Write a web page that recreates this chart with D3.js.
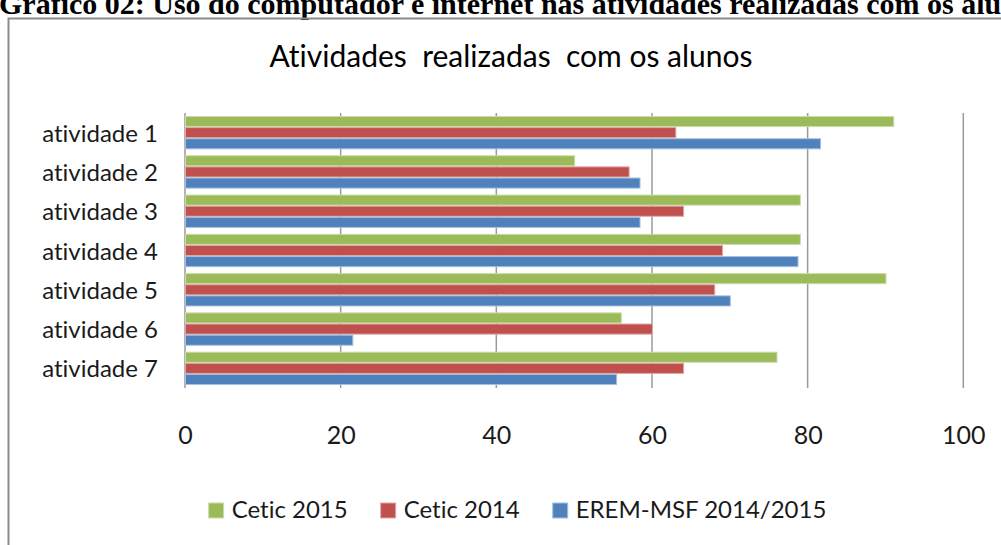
<!DOCTYPE html>
<html>
<head>
<meta charset="utf-8">
<script src="https://cdn.jsdelivr.net/npm/d3@7"></script>
<style>
  body { margin: 0; background: #fff; }
  svg { display: block; }
  text { font-variant-ligatures: none; }
</style>
</head>
<body>
<svg width="1001" height="545"></svg>
<script>
const categories = ['atividade 1', 'atividade 2', 'atividade 3', 'atividade 4', 'atividade 5', 'atividade 6', 'atividade 7'];
const seriesNames = ['Cetic 2015', 'Cetic 2014', 'EREM-MSF 2014/2015'];
const cetic2015 = [91, 50, 79, 79, 90, 56, 76];
const cetic2014 = [63, 57, 64, 69, 68, 60, 64];
const erem = [81.6, 58.4, 58.4, 78.7, 70, 21.5, 55.4];
const xTicks = [0, 20, 40, 60, 80, 100];
const colors = ['#9bbb59', '#c0504d', '#4f81bd'];
const edges = ['#cddcac', '#dfa8a6', '#a7c0de'];

const svg = d3.select('svg');
const width = +svg.attr('width');
const font = 'Lato, Carlito, sans-serif';

// page heading, cut off at the top like in the scan
svg.append('text')
    .attr('x', -1)
    .attr('y', 14)
    .attr('font-family', '"Liberation Serif", "Times New Roman", serif')
    .attr('font-weight', 'bold')
    .attr('font-size', 30)
    .text('Gráfico 02: Uso do computador e internet nas atividades realizadas com os alunos');

// chart frame
svg.append('rect')
    .attr('x', 8.5)
    .attr('y', 18.5)
    .attr('width', width + 20)
    .attr('height', 600)
    .attr('fill', 'none')
    .attr('stroke', '#8c8c8c')
    .attr('stroke-width', 2);

svg.append('text')
    .attr('x', 511)
    .attr('y', 67)
    .attr('text-anchor', 'middle')
    .attr('font-family', font)
    .attr('font-size', 30)
    .style('white-space', 'pre')
    .attr('fill', '#000')
    .text('Atividades  realizadas  com os alunos');

const x = d3.scaleLinear().domain([0, 100]).range([185, 963.3]);
const y = d3.scaleBand().domain(categories).range([113, 388])
    .paddingInner(0.15).paddingOuter(0.075);
const ySub = d3.scaleBand().domain(seriesNames).range([0, y.bandwidth()]);

// gridlines
svg.append('g')
    .selectAll('line')
    .data(xTicks)
    .join('line')
    .attr('x1', d => x(d))
    .attr('x2', d => x(d))
    .attr('y1', 113)
    .attr('y2', 388)
    .attr('stroke', '#9a9a9a')
    .attr('stroke-width', 1.5);

const table = [cetic2015, cetic2014, erem];

const groups = svg.append('g')
    .selectAll('g')
    .data(categories)
    .join('g')
    .attr('transform', d => `translate(0,${y(d)})`);

groups.selectAll('rect')
    .data((d, i) => seriesNames.map((s, j) => ({ s, j, v: table[j][i] })))
    .join('rect')
    .attr('x', x(0) + 0.5)
    .attr('y', d => ySub(d.s) + 0.5)
    .attr('width', d => x(d.v) - x(0))
    .attr('height', ySub.bandwidth() - 1)
    .attr('fill', d => colors[d.j])
    .attr('stroke', d => edges[d.j])
    .attr('stroke-width', 1);

// category labels
svg.append('g')
    .selectAll('text')
    .data(categories)
    .join('text')
    .attr('x', 158)
    .attr('y', d => y(d) + y.bandwidth() / 2 + 9)
    .attr('text-anchor', 'end')
    .attr('font-family', font)
    .attr('font-size', 24)
    .attr('fill', '#1a1a1a')
    .text(d => d);

// x axis labels
const xAxis = d3.axisBottom(x).tickValues(xTicks).tickSize(0).tickPadding(0);
const axisG = svg.append('g')
    .attr('transform', 'translate(0,426)')
    .call(xAxis);
axisG.select('.domain').remove();
axisG.selectAll('text')
    .attr('font-family', font)
    .attr('font-size', 25)
    .attr('fill', '#1a1a1a')
    .attr('dy', '0.71em');

// legend
const legend = svg.append('g');
const items = legend.selectAll('g')
    .data(seriesNames)
    .join('g');
items.append('rect')
    .attr('width', 15)
    .attr('height', 15)
    .attr('y', 503)
    .attr('fill', (d, i) => colors[i])
    .attr('stroke', (d, i) => edges[i])
    .attr('stroke-width', 1);
items.append('text')
    .attr('x', 23)
    .attr('y', 518)
    .attr('font-family', font)
    .attr('font-size', 24)
    .attr('fill', '#1a1a1a')
    .text(d => d);

const gap = 33;
let pos = 0;
const offsets = [];
items.each(function (d, i) {
    offsets.push(pos);
    const w = d3.select(this).select('text').node().getComputedTextLength();
    pos += 23 + w + gap;
});
const total = pos - gap;
const start = 517.5 - total / 2;
items.attr('transform', (d, i) => `translate(${start + offsets[i]},0)`);
</script>
</body>
</html>
